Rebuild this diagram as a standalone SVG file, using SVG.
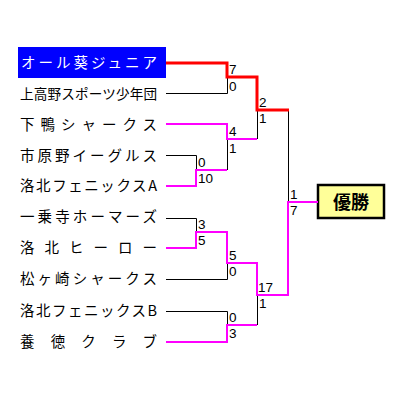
<svg xmlns="http://www.w3.org/2000/svg" width="400" height="400" viewBox="0 0 400 400">
<style>
.t{font-family:"Noto Sans CJK JP","Liberation Sans",sans-serif;font-size:14.5px;fill:#000}
.s{font-family:"Liberation Sans",Arial,sans-serif;font-size:13.5px;fill:#000}
.k{fill:none;stroke:#000;stroke-width:1}
.m{fill:none;stroke:#FF00FF;stroke-width:2}
.r{fill:none;stroke:#FF0000;stroke-width:3}
</style>
<rect width="400" height="400" fill="#fff"/>
<g id="team1"><rect x="18" y="47" width="148" height="31" fill="#0000FF"/><text class="t" x="21" y="68" textLength="136" lengthAdjust="spacing" style="fill:#fff">オール葵ジュニア</text></g>
<g id="team2"><text class="t" x="20" y="99" textLength="137" lengthAdjust="spacing" style="font-size:13.6px">上高野スポーツ少年団</text></g>
<g id="team3"><text class="t" x="20" y="130" textLength="137" lengthAdjust="spacing">下鴨シャークス</text></g>
<g id="team4"><text class="t" x="20" y="161" textLength="137" lengthAdjust="spacing">市原野イーグルス</text></g>
<g id="team5"><text class="t" x="20" y="191" textLength="137" lengthAdjust="spacing">洛北フェニックスA</text></g>
<g id="team6"><text class="t" x="20" y="222" textLength="137" lengthAdjust="spacing">一乗寺ホーマーズ</text></g>
<g id="team7"><text class="t" x="20" y="253" textLength="137" lengthAdjust="spacing">洛北ヒーロー</text></g>
<g id="team8"><text class="t" x="20" y="284" textLength="137" lengthAdjust="spacing">松ヶ崎シャークス</text></g>
<g id="team9"><text class="t" x="20" y="316" textLength="137" lengthAdjust="spacing">洛北フェニックスB</text></g>
<g id="team10"><text class="t" x="20" y="347" textLength="137" lengthAdjust="spacing">養徳クラブ</text></g>
<g id="champion"><rect x="318" y="185" width="66" height="33" fill="#FFFF99" stroke="#000" stroke-width="2.5"/><text x="351" y="208.5" text-anchor="middle" style="font-family:'Noto Sans CJK JP',sans-serif;font-size:18px;font-weight:bold;fill:#000">優勝</text></g>
<g id="connectors">
<polyline class="k" points="166,93.5 227.5,93.5 227.5,77"/>
<polyline class="k" points="257.5,110 257.5,139"/>
<polyline class="k" points="166,155.5 196.5,155.5 196.5,170"/>
<polyline class="k" points="227.5,139 227.5,170"/>
<polyline class="k" points="288.5,110 288.5,202"/>
<polyline class="k" points="166,218.5 196.5,218.5 196.5,232"/>
<polyline class="k" points="166,279.5 227.5,279.5 227.5,263"/>
<polyline class="k" points="166,311.5 227.5,311.5 227.5,325"/>
<polyline class="k" points="257.5,295 257.5,325"/>
<polyline class="m" points="166,124 227,124 227,139 257,139"/>
<polyline class="m" points="166,186 196,186 196,170 227,170"/>
<polyline class="m" points="166,248 196,248 196,232 227,232 227,263 257,263 257,295 288,295 288,202 318,202"/>
<polyline class="m" points="166,342 227,342 227,325 257,325"/>
<polyline class="r" points="166,63 227,63 227,77 257,77 257,110 289,110"/>
</g>
<g id="scores">
<text class="s" x="229" y="74">7</text><text class="s" x="229" y="91">0</text>
<text class="s" x="259" y="107">2</text><text class="s" x="259" y="123">1</text>
<text class="s" x="229" y="136">4</text><text class="s" x="229" y="153">1</text>
<text class="s" x="198" y="167">0</text><text class="s" x="198" y="183">10</text>
<text class="s" x="290" y="199">1</text><text class="s" x="290" y="215">7</text>
<text class="s" x="198" y="229">3</text><text class="s" x="198" y="245">5</text>
<text class="s" x="229" y="260">5</text><text class="s" x="229" y="276">0</text>
<text class="s" x="258" y="292">17</text><text class="s" x="259" y="308">1</text>
<text class="s" x="229" y="322">0</text><text class="s" x="229" y="338">3</text>
</g>
</svg>
